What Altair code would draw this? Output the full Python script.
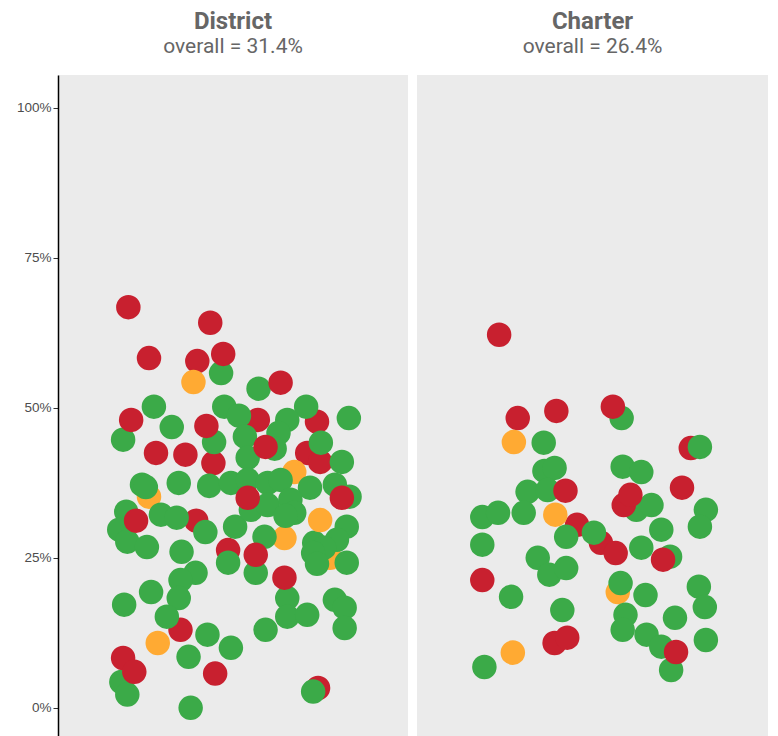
import altair as alt
import pandas as pd

# ---- data (x = jitter position 0-100 inside panel, y = percent) ----
# Lists are in drawing order (earlier = further back)
district_x = [
    57.1, 74.0, 44.4, 71.2, 74.9, 39.5, 48.6, 35.0, 74.3,            # red, drawn behind
    67.5, 26.0, 77.7, 64.7,                                          # orange, behind
    46.6, 57.3, 27.4, 47.5, 51.7, 70.9, 65.5, 83.1, 18.6, 32.5,
    44.6, 53.4, 63.0, 75.1, 54.2, 61.9, 81.1, 24.0, 34.5, 43.2,
    49.4, 54.2, 59.9, 63.6, 72.0, 79.1, 83.3, 25.1, 19.5, 17.5,
    19.8, 25.4, 29.4, 33.9, 42.1, 50.6, 55.1, 59.9, 66.4, 67.5,
    65.0, 82.5, 79.7, 73.2, 76.0, 72.9, 35.3, 48.6, 56.5, 74.0,
    39.3, 35.0, 34.5, 26.6, 18.9, 31.1, 42.7, 37.3, 49.4, 59.3,
    65.5, 65.5, 71.2, 79.1, 81.9, 81.9, 18.1, 19.8, 37.9, 72.9,
    59.0, 82.5,                                                      # green
    20.1, 43.5, 26.0, 39.8, 47.2, 63.6, 20.9, 42.4, 59.3, 28.0,
    36.4, 54.2, 81.1, 22.3, 56.5, 64.7, 18.6, 21.8, 44.9,            # red, front
    38.7, 74.9, 28.5,                                                # orange, front
]
district_y = [
    48.0, 47.7, 40.8, 42.5, 41.0, 31.2, 26.3, 13.0, 3.3,
    39.3, 35.2, 25.0, 28.3,
    55.8, 53.2, 50.2, 50.2, 48.7, 50.2, 48.0, 48.3, 44.7, 46.8,
    44.3, 45.2, 45.8, 44.2, 41.7, 43.2, 41.0, 37.2, 37.5, 37.0,
    37.5, 38.0, 37.5, 38.0, 36.7, 37.2, 35.2, 36.8, 32.7, 29.7,
    27.7, 26.8, 32.2, 31.7, 29.3, 30.2, 33.0, 33.8, 34.7, 32.5,
    32.0, 30.2, 28.0, 27.5, 26.7, 25.8, 26.0, 24.2, 22.5, 24.0,
    22.5, 21.3, 18.3, 19.3, 17.2, 15.2, 12.2, 8.5, 10.0, 13.0,
    18.3, 15.2, 15.5, 18.0, 16.7, 13.3, 4.3, 2.2, 0.0, 2.7,
    28.5, 24.2,
    66.8, 64.2, 58.3, 57.8, 59.0, 54.2, 48.0, 47.0, 43.5, 42.5,
    42.2, 35.0, 35.0, 31.2, 25.5, 21.7, 8.3, 6.0, 5.7,
    54.3, 31.3, 10.8,
]
district_group = (
    ["red"] * 9 + ["orange"] * 4 + ["green"] * 72 + ["red"] * 19 + ["orange"] * 3
)

charter_x = [
    78.0, 45.6, 52.4,                                                # red, behind
    57.2,                                                            # orange, behind
    58.3, 36.1, 36.3, 39.2, 31.5, 37.2, 58.6, 63.9, 80.6, 62.5,
    66.8, 82.3, 80.6, 18.6, 23.1, 30.4, 42.5, 50.4, 69.6, 63.9,
    72.1, 18.6, 34.4, 37.7, 42.5, 26.8, 58.0, 65.1, 80.3, 82.0,
    41.4, 59.4, 58.6, 73.5, 65.4, 69.6, 82.3, 72.4, 19.2,            # green
    23.4, 28.7, 39.7, 55.8, 42.3, 58.9, 60.8, 75.5, 56.6, 70.1,
    18.6, 39.2, 42.8, 73.8,                                          # red, front
    27.6, 39.4, 27.3,                                                # orange, front
]
charter_y = [
    43.3, 30.5, 27.5,
    19.3,
    48.3, 44.2, 39.5, 40.0, 36.0, 36.3, 40.2, 39.3, 43.5, 33.0,
    33.8, 33.0, 30.2, 31.8, 32.5, 32.5, 28.5, 29.2, 29.7, 26.7,
    25.2, 27.2, 25.0, 22.2, 23.3, 18.5, 20.8, 18.8, 20.2, 16.8,
    16.3, 15.5, 13.0, 15.0, 12.2, 10.2, 11.3, 6.3, 6.8,
    62.2, 48.3, 49.5, 50.2, 36.2, 33.8, 35.5, 36.7, 25.8, 24.7,
    21.3, 10.8, 11.7, 9.3,
    44.3, 32.2, 9.2,
]
charter_group = ["red"] * 3 + ["orange"] * 1 + ["green"] * 39 + ["red"] * 14 + ["orange"] * 3

panels = ["District", "Charter"]
overall = ["31.4%", "26.4%"]
y_ticks = [0, 25, 50, 75, 100]

groups = ["green", "orange", "red"]
group_colors = ["#3BAA48", "#FFAA33", "#C8202F"]


def make_panel(xs, ys, gs, name, ov, show_axis, width):
    df = pd.DataFrame({"x": xs, "y": ys, "group": gs})
    df["idx"] = range(len(df))
    if show_axis:
        y_axis = alt.Axis(
            values=y_ticks,
            labelExpr="datum.value + '%'",
            title=None,
            grid=False,
            domain=True,
            domainColor="#000000",
            domainWidth=1.5,
            ticks=True,
            tickColor="#333333",
            tickSize=5,
            tickWidth=1,
            labelColor="#4D4D4D",
            labelFont="Liberation Sans",
            labelFontSize=13.5,
            labelPadding=2,
            minExtent=50,
            maxExtent=50,
        )
    else:
        y_axis = None
    return (
        alt.Chart(df)
        .mark_circle(size=600, opacity=1)
        .encode(
            x=alt.X("x:Q", scale=alt.Scale(domain=[0, 100], nice=False, zero=False), axis=None),
            y=alt.Y("y:Q", scale=alt.Scale(domain=[-4.7, 105.5], nice=False, zero=False), axis=y_axis),
            color=alt.Color("group:N", scale=alt.Scale(domain=groups, range=group_colors), legend=None),
            order=alt.Order("idx:Q"),
        )
        .properties(
            width=width,
            height=661,
            title=alt.TitleParams(
                text=name,
                subtitle="overall = " + ov,
                font="Roboto",
                fontSize=24,
                fontWeight="bold",
                color="#666666",
                subtitleFont="Roboto",
                subtitleFontSize=21,
                subtitleColor="#666666",
                subtitlePadding=2,
                anchor="middle",
                offset=18,
            ),
        )
    )


left = make_panel(district_x, district_y, district_group, panels[0], overall[0], True, 350)
right = make_panel(charter_x, charter_y, charter_group, panels[1], overall[1], False, 351)

chart = (
    alt.hconcat(left, right, spacing=9)
    .configure_view(fill="#EBEBEB", stroke=None)
    .properties(
        padding={"top": 2, "left": 0, "right": 0, "bottom": 0},
        background="#FFFFFF",
    )
)

chart.save("out.html", embed_options={"renderer": "svg", "actions": False})
